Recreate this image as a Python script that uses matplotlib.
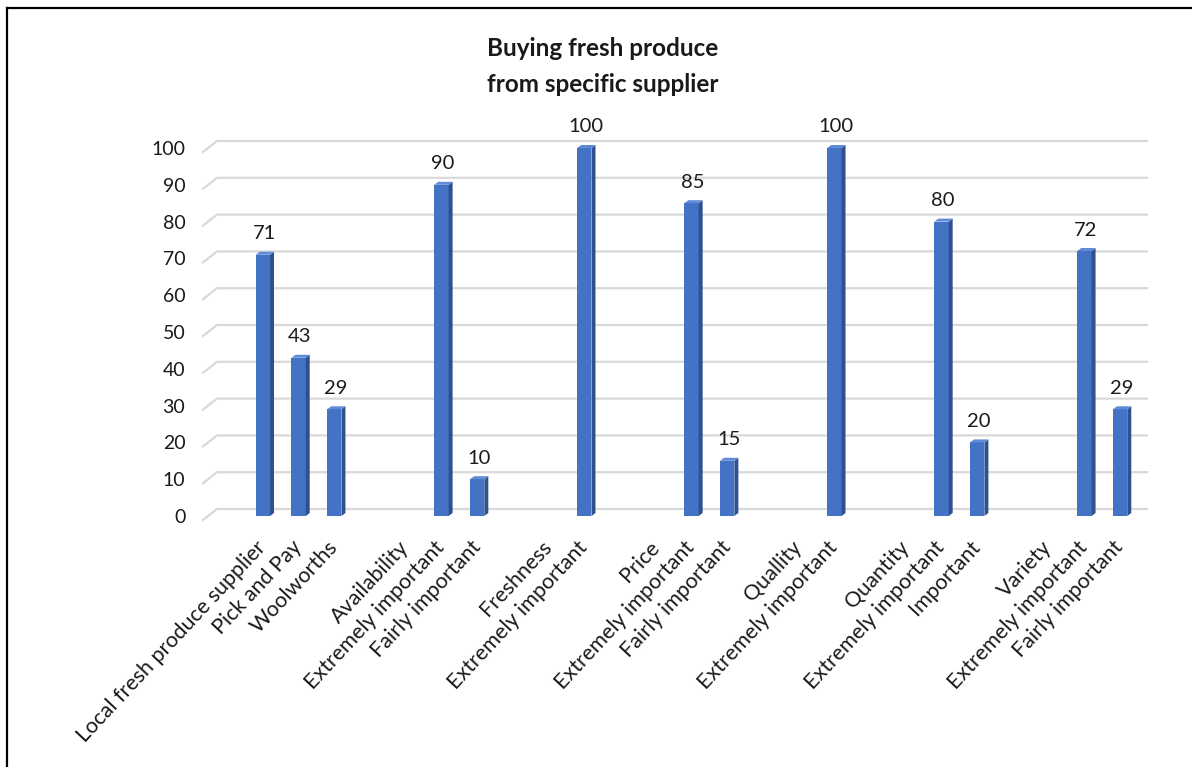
"""Buying fresh produce from specific supplier -> out.png (Excel-style 3D column look)."""
import numpy as np
import matplotlib
matplotlib.use("Agg")
import matplotlib.pyplot as plt
import matplotlib.transforms as mtransforms
from matplotlib.patches import Polygon
from matplotlib.lines import Line2D

# empty strings are the blank spacer slots between groups
categories = ["Local fresh produce supplier", "Pick and Pay", "Woolworths", "",
              "Availability", "Extremely important", "Fairly important", "",
              "Freshness", "Extremely important", "",
              "Price", "Extremely important", "Fairly important", "",
              "Quallity", "Extremely important", "",
              "Quantity", "Extremely important", "Important", "",
              "Variety", "Extremely important", "Fairly important"]
values = [71, 43, 29, None,
          None, 90, 10, None,
          None, 100, None,
          None, 85, 15, None,
          None, 100, None,
          None, 80, 20, None,
          None, 72, 29]
yticks = list(range(0, 101, 10))
title_lines = ["Buying fresh produce", "from specific supplier"]

FRONT, SIDE, TOP = "#4472C4", "#2F528F", "#5F8AD6"
GRID = "#D9D9D9"
INK = "#1a1a1a"
W, H = 1192, 767
plt.rcParams["font.family"] = ["Lato", "DejaVu Sans"]

fig = plt.figure(figsize=(W / 100, H / 100), dpi=100)
ax_l, ax_r, ax_b, ax_t = 245, 1138, 516, 148          # axes box in pixels
ax = fig.add_axes([ax_l / W, (H - ax_b) / H, (ax_r - ax_l) / W, (ax_b - ax_t) / H])

x = np.arange(len(categories))
ax.set_xlim(-0.5, len(categories) - 0.5)
ax.set_ylim(0, 100)
px_x = (ax_r - ax_l) / len(categories)
px_y = (ax_b - ax_t) / 100.0
ddx, ddy = 4 / px_x, 3 / px_y                          # bar depth in data units

# gridlines: front slant on the floor + horizontal line on the back wall
back, front = 7 / px_y, -4 / px_y
x0, x1, x2 = [(p - ax_l) / (ax_r - ax_l) for p in (203, 217, 1147)]
tr = mtransforms.blended_transform_factory(ax.transAxes, ax.transData)
for v in yticks:
    ax.plot([x0, x1, x2], [v + front, v + back, v + back], color=GRID, lw=1.6,
            transform=tr, clip_on=False, zorder=0)

w = 0.4
for xi, v in zip(x, values):
    if v is None:
        continue
    ax.bar(xi, v, width=w, color=FRONT, zorder=3)
    xl, xr = xi - w / 2, xi + w / 2
    ax.add_patch(Polygon([(xr, 0), (xr + ddx, ddy), (xr + ddx, v + ddy), (xr, v)],
                         closed=True, facecolor=SIDE, edgecolor="none", zorder=3, clip_on=False))
    ax.add_patch(Polygon([(xl, v), (xl + ddx, v + ddy), (xr + ddx, v + ddy), (xr, v)],
                         closed=True, facecolor=TOP, edgecolor="none", zorder=3, clip_on=False))
    ax.annotate(str(v), (xi, v), xytext=(1, 9), textcoords="offset points",
                ha="center", va="bottom", fontsize=14.5, color=INK)

ax.set_yticks(yticks)
ax.set_yticklabels([str(t) for t in yticks], fontsize=14, color=INK)
ax.set_xticks(x)
ax.set_xticklabels(categories, rotation=47, ha="right", va="center",
                   rotation_mode="anchor", fontsize=15.5, color=INK)
ax.tick_params(axis="y", length=0, pad=43)
ax.tick_params(axis="x", length=0, pad=20)
for s in ax.spines.values():
    s.set_visible(False)
ax.set_facecolor("none")

fig.text(603 / W, 1 - 48 / H, title_lines[0], ha="center", va="center",
         fontsize=17.5, fontweight="bold", color=INK)
fig.text(603 / W, 1 - 84 / H, title_lines[1], ha="center", va="center",
         fontsize=17.5, fontweight="bold", color=INK)

# outer frame (top and left edges only visible in the reference)
fig.add_artist(Line2D([7 / W, 1], [1 - 8 / H, 1 - 8 / H], color="black", lw=1.6))
fig.add_artist(Line2D([7 / W, 7 / W], [0, 1 - 8 / H], color="black", lw=1.6))

fig.savefig("out.png", dpi=100)
